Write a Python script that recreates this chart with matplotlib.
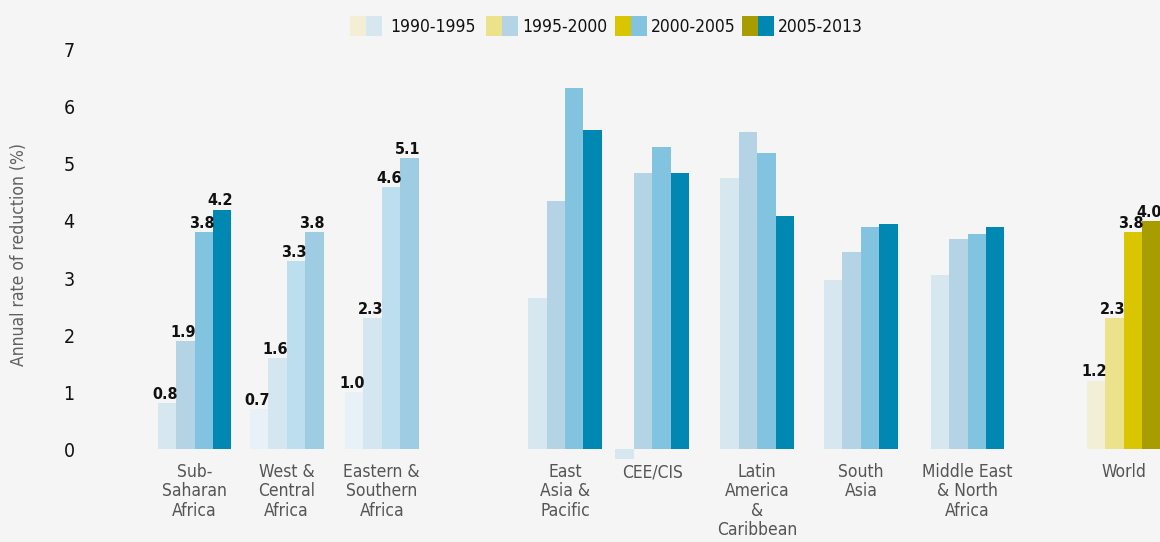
import numpy as np
import matplotlib.pyplot as plt
from matplotlib.patches import Rectangle

plt.rcParams['font.family'] = ['DejaVu Sans']
plt.rcParams['font.stretch'] = 'condensed'

regions = ["Sub-\nSaharan\nAfrica", "West &\nCentral\nAfrica", "Eastern &\nSouthern\nAfrica",
           "East\nAsia &\nPacific", "CEE/CIS", "Latin\nAmerica\n&\nCaribbean",
           "South\nAsia", "Middle East\n& North\nAfrica", "World"]
periods = ["1990-1995", "1995-2000", "2000-2005", "2005-2013"]

# annual rate of reduction (%) per region, one list per period
r_1990_1995 = [0.8, 0.7, 1.0, 2.65, -0.18, 4.75, 2.97, 3.05, 1.2]
r_1995_2000 = [1.9, 1.6, 2.3, 4.35, 4.84, 5.56, 3.46, 3.68, 2.3]
r_2000_2005 = [3.8, 3.3, 4.6, 6.33, 5.3, 5.2, 3.9, 3.77, 3.8]
r_2005_2013 = [4.2, 3.8, 5.1, 5.6, 4.84, 4.09, 3.95, 3.9, 4.0]
labelled = [True, True, True, False, False, False, False, False, True]

series = [r_1990_1995, r_1995_2000, r_2000_2005, r_2005_2013]

# layout
group_pos = [0, 0.95, 1.93, 3.82, 4.72, 5.8, 6.87, 7.97, 9.58]
bar_w = 0.19

blue = ['#d6e7f0', '#b4d4e6', '#82c3e0', '#0088b3']
pale = ['#e8f1f8', '#d4e6ef', '#bcdeee', '#9ecde3']
gold = ['#f3eed6', '#ece28c', '#d9c600', '#a89d00']
group_colors = [blue, pale, pale, blue, blue, blue, blue, blue, gold]

bg = '#f5f5f5'
fig = plt.figure(figsize=(11.6, 5.42), dpi=100, facecolor=bg)
ax = fig.add_axes([140 / 1160, 72 / 542, 1020 / 1160, 430 / 542], facecolor=bg)

for i, pos in enumerate(group_pos):
    for k in range(4):
        x = pos + (k - 1.5) * bar_w
        v = series[k][i]
        ax.bar(x, v, width=bar_w, color=group_colors[i][k], linewidth=0)
        if labelled[i]:
            ax.text(x + bar_w * 0.58, v + 0.02, f"{v:.1f}", ha='right', va='bottom',
                    fontsize=11.5, fontweight='bold', color='#111111')
    ax.text(pos, -0.25, regions[i], ha='center', va='top', fontsize=12.5,
            color='#555555', linespacing=1.08)

ax.set_xlim(-0.562, 9.954)
ax.set_ylim(-0.368, 7.175)
ax.set_yticks(range(8))
ax.tick_params(axis='y', length=0, pad=47, labelsize=14, labelcolor='#111111')
ax.set_xticks([])
for s in ax.spines.values():
    s.set_visible(False)

fig.text(19 / 1160, 1 - 254 / 542, "Annual rate of reduction (%)", rotation=90,
         ha='center', va='center', fontsize=12.5, color='#606060')

# legend
leg_x = [350, 486, 615, 742]
leg_gap = [40, 36, 36, 36]
for k, lx in enumerate(leg_x):
    for j, c in enumerate([gold[k], blue[k]]):
        fig.patches.append(Rectangle(((lx + j * 16) / 1160, 1 - 36 / 542), 16 / 1160, 20 / 542,
                                     transform=fig.transFigure, color=c, linewidth=0))
    fig.text((lx + leg_gap[k]) / 1160, 1 - 27 / 542, periods[k], ha='left', va='center',
             fontsize=12.5, color='#111111')

fig.savefig('out.png', dpi=100, facecolor=bg)
